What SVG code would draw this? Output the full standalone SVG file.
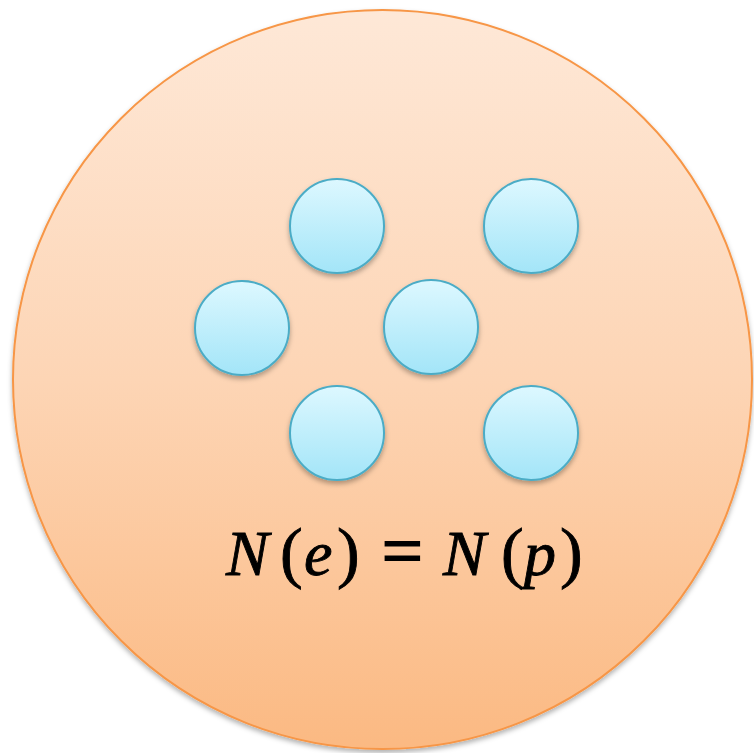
<svg xmlns="http://www.w3.org/2000/svg" width="754" height="753" viewBox="0 0 754 753">
<defs>
<linearGradient id="gBig" x1="0" y1="0" x2="0" y2="1">
<stop offset="0" stop-color="#FEE8D7"/>
<stop offset="0.5" stop-color="#FDD5B5"/>
<stop offset="1" stop-color="#FBB982"/>
</linearGradient>
<linearGradient id="gSmall" x1="0" y1="0" x2="0" y2="1">
<stop offset="0" stop-color="#DDF8FF"/>
<stop offset="1" stop-color="#A3E5F8"/>
</linearGradient>
<filter id="sh" x="-10%" y="-10%" width="120%" height="125%">
<feDropShadow dx="0" dy="3" stdDeviation="2.5" flood-color="#000" flood-opacity="0.3"/>
</filter>
</defs>
<style>
.big{fill:url(#gBig);stroke:#F79646;stroke-width:2}
.p{fill:url(#gSmall);stroke:#4BACC6;stroke-width:2}
.m{font-family:"Liberation Serif","DejaVu Serif",serif;fill:#000;stroke:#000;stroke-width:0.9}
.i{font-style:italic;font-size:64px}
.u{font-size:68px}
.eq{font-size:72px;stroke-width:2}
</style>
<rect width="754" height="753" fill="#fff"/>
<g id="atom">
<circle class="big" cx="382.5" cy="379.5" r="369.5" filter="url(#sh)"/>
</g>
<g id="particles">
<g id="p1"><circle class="p" cx="337" cy="226" r="47" filter="url(#sh)"/></g>
<g id="p2"><circle class="p" cx="531" cy="226" r="47" filter="url(#sh)"/></g>
<g id="p3"><circle class="p" cx="242" cy="328" r="47" filter="url(#sh)"/></g>
<g id="p4"><circle class="p" cx="431" cy="327" r="47" filter="url(#sh)"/></g>
<g id="p5"><circle class="p" cx="337" cy="433" r="47" filter="url(#sh)"/></g>
<g id="p6"><circle class="p" cx="531" cy="433" r="47" filter="url(#sh)"/></g>
</g>
<g id="formula">
<text class="m" y="575"><tspan class="i" x="226">N</tspan><tspan class="u" x="280">(</tspan><tspan class="i" x="304">e</tspan><tspan class="u" x="337">)</tspan><tspan class="u eq" x="382">=</tspan><tspan class="i" x="443">N</tspan><tspan class="u" x="501">(</tspan><tspan class="i" x="524">p</tspan><tspan class="u" x="560">)</tspan></text>
</g>
</svg>
